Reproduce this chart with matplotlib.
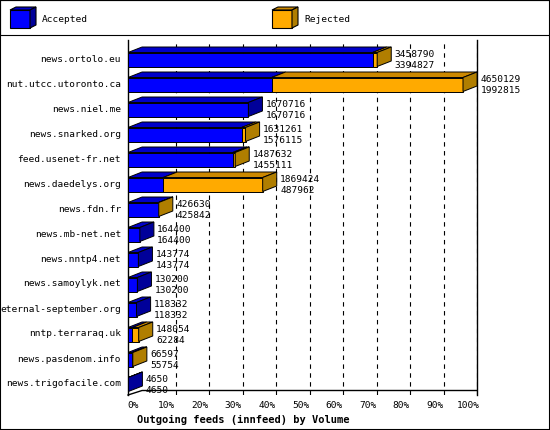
import matplotlib.pyplot as plt
from matplotlib.patches import Rectangle

hosts = ['news.ortolo.eu', 'nut.utcc.utoronto.ca', 'news.niel.me', 'news.snarked.org',
         'feed.usenet-fr.net', 'news.daedelys.org', 'news.fdn.fr', 'news.mb-net.net',
         'news.nntp4.net', 'news.samoylyk.net', 'eternal-september.org', 'nntp.terraraq.uk',
         'news.pasdenom.info', 'news.trigofacile.com']
total = [3458790, 4650129, 1670716, 1631261, 1487632, 1869424, 426630, 164400,
         143774, 130200, 118332, 148054, 66597, 4650]
accepted = [3394827, 1992815, 1670716, 1576115, 1455111, 487962, 425842, 164400,
            143774, 130200, 118332, 62284, 55754, 4650]

BLUE, BLUE_TOP, BLUE_SIDE = '#0000ff', '#0000c8', '#000099'
ORANGE, ORANGE_TOP, ORANGE_SIDE = '#ffaa00', '#cc8800', '#b07e00'
mono = 'DejaVu Sans Mono'
fs = 6.8

fig = plt.figure(figsize=(5.5, 4.3), dpi=100)
W, H = 550, 430

# legend box on top
lg = fig.add_axes([0, 1 - 35 / H, 1, 35 / H])
lg.set_xlim(0, W); lg.set_ylim(35, 0); lg.set_xticks([]); lg.set_yticks([])
for x0, f, t, s, name in [(10, BLUE, BLUE_TOP, BLUE_SIDE, 'Accepted'),
                          (272, ORANGE, ORANGE_TOP, ORANGE_SIDE, 'Rejected')]:
    lg.add_patch(Rectangle((x0, 10), 20, 18, fc=f, ec='k', lw=0.8))
    lg.fill([x0, x0 + 6, x0 + 26, x0 + 20], [10, 7, 7, 10], fc=t, ec='k', lw=0.8)
    lg.fill([x0 + 20, x0 + 26, x0 + 26, x0 + 20], [10, 7, 25, 28], fc=s, ec='k', lw=0.8)
    lg.text(x0 + 32, 20, name, family=mono, fontsize=fs, va='center')

left, right, top, bottom = 128, 477, 40, 395
ax = fig.add_axes([left / W, 1 - bottom / H, (right - left) / W, (bottom - top) / H])
xmax = 100 * (right - left) / 335
ax.set_xlim(0, xmax)
ax.set_ylim(13.48, -0.72)
mx = max(total)
dx, dy, h = 4.2, 0.22, 0.56

for k in range(1, 11):
    ax.plot([k * 10 + dx] * 2, [13.48, -0.72], ls=(0, (4, 4)), color='k', lw=0.8, zorder=0)

for i in range(len(hosts)):
    a = accepted[i] / mx * 100
    t = total[i] / mx * 100
    yc = i + 0.06
    y0, y1 = yc - h / 2, yc + h / 2
    segs = [(0, a, BLUE, BLUE_TOP, BLUE_SIDE)]
    if t > a:
        segs.append((a, t, ORANGE, ORANGE_TOP, ORANGE_SIDE))
    for s0, s1, f, tp, sd in segs:
        ax.add_patch(Rectangle((s0, y0), s1 - s0, h, fc=f, ec='k', lw=0.7, zorder=3))
        ax.fill([s0, s0 + dx, s1 + dx, s1], [y0, y0 - dy, y0 - dy, y0], fc=tp, ec='k', lw=0.7, zorder=3)
    sd = segs[-1][4]
    ax.fill([t, t + dx, t + dx, t], [y0, y0 - dy, y1 - dy, y1], fc=sd, ec='k', lw=0.7, zorder=3)
    ax.text(t + dx + 1, yc - 0.2, str(total[i]), family=mono, fontsize=fs, va='center', clip_on=False)
    ax.text(t + dx + 1, yc + 0.22, str(accepted[i]), family=mono, fontsize=fs, va='center', clip_on=False)

ax.set_yticks(range(len(hosts)))
ax.set_yticklabels(hosts, family=mono, fontsize=fs)
ax.tick_params(axis='y', length=0, pad=5)
ax.set_xticks([k * 10 + 1.5 for k in range(11)])
ax.set_xticklabels([f'{k * 10}%' for k in range(11)], family=mono, fontsize=fs)
ax.tick_params(axis='x', length=0, pad=4)
for s in ['top', 'bottom']:
    ax.spines[s].set_visible(False)
ax.spines['left'].set_linewidth(1)
ax.spines['right'].set_linewidth(1)
ax.plot([0, dx, xmax], [13.48, 13.3, 13.3], color='k', lw=1, clip_on=False)
ax.set_xlabel('Outgoing feeds (innfeed) by Volume', family=mono, fontsize=7.5, fontweight='bold', labelpad=2)
ax.xaxis.set_label_coords(0.33, -0.055)

fig.patches.append(Rectangle((0, 0), 1, 1, transform=fig.transFigure, fill=False, ec='k', lw=1.5))
fig.savefig('out.png', dpi=100)
